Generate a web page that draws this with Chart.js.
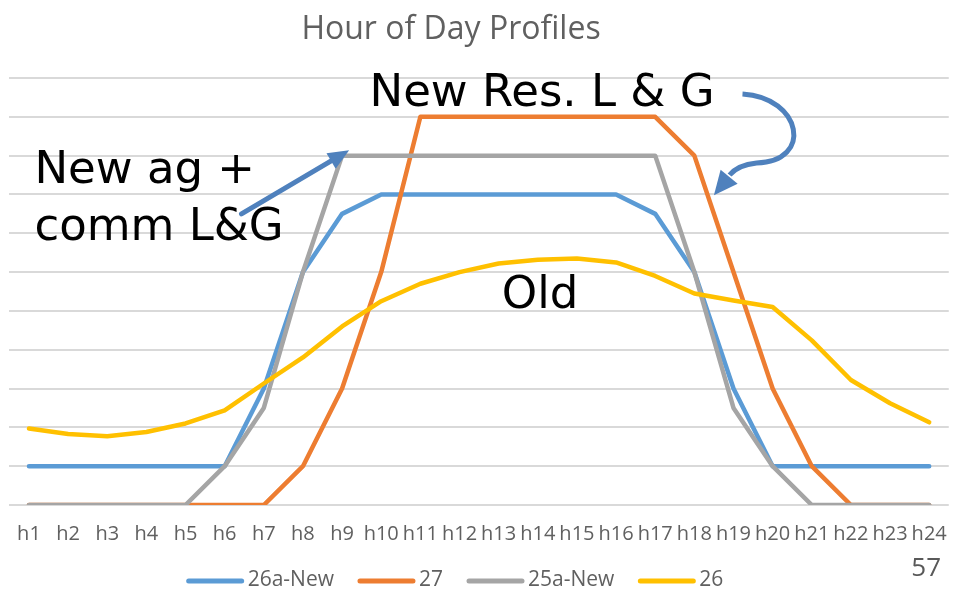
<!DOCTYPE html>
<html>
<head>
<meta charset="utf-8">
<script src="https://cdn.jsdelivr.net/npm/chart.js@4.4.1/dist/chart.umd.min.js"></script>
<style>
html,body{margin:0;padding:0;background:#ffffff;}
#wrap{width:964px;height:590px;position:relative;overflow:hidden;}
canvas{display:block;}
</style>
</head>
<body>
<div id="wrap"><canvas id="c" width="964" height="590"></canvas></div>
<script>
// ---- data ----
const hours = ['h1','h2','h3','h4','h5','h6','h7','h8','h9','h10','h11','h12','h13','h14','h15','h16','h17','h18','h19','h20','h21','h22','h23','h24'];
const seriesNames = ['26a-New', '27', '25a-New', '26'];
const values26aNew = [1,1,1,1,1,1,3,6,7.5,8,8,8,8,8,8,8,7.5,6,3,1,1,1,1,1];
const values27     = [0,0,0,0,0,0,0,1,3,6,10,10,10,10,10,10,10,9,6,3,1,0,0,0];
const values25aNew = [0,0,0,0,0,1,2.5,6,9,9,9,9,9,9,9,9,9,6,2.5,1,0,0,0,0];
const values26     = [1.97,1.83,1.77,1.88,2.1,2.44,3.13,3.8,4.6,5.25,5.7,6.0,6.22,6.32,6.35,6.25,5.9,5.45,5.27,5.1,4.24,3.22,2.62,2.13];
const yMin = 0, yMax = 11, yStep = 1;
const chartTitle = 'Hour of Day Profiles';
const pageNumber = '57';
const labelNewRes = 'New Res. L & G';
const labelNewAg = ['New ag +', 'comm L&G'];
const labelOld = 'Old';

// ---- styles ----
const colors = ['#5B9BD5', '#ED7D31', '#A5A5A5', '#FFC000'];
const textGray = '#606060';
const arrowBlue = '#4F81BD';

const seriesValues = [values26aNew, values27, values25aNew, values26];
// Excel draws later series on top: higher 'order' is drawn first
const drawOrder = [4, 3, 2, 1];

const datasets = seriesNames.map((name, k) => ({
  label: name,
  data: seriesValues[k],
  borderColor: colors[k],
  backgroundColor: colors[k],
  borderWidth: 4.5,
  pointRadius: 0,
  pointHoverRadius: 0,
  tension: 0,
  fill: false,
  borderJoinStyle: 'round',
  borderCapStyle: 'round',
  order: drawOrder[k]
}));

const overlayPlugin = {
  id: 'overlay',
  afterDatasetsDraw(chart) {
    const ctx = chart.ctx;
    const xs = chart.scales.x, ys = chart.scales.y;
    const X = i => xs.getPixelForValue(i);
    const Y = v => ys.getPixelForValue(v);
    ctx.save();

    // annotation texts
    ctx.fillStyle = '#000000';
    ctx.textAlign = 'left';
    ctx.textBaseline = 'alphabetic';
    ctx.font = '45px "DejaVu Sans"';
    ctx.fillText(labelNewRes, X(8.70), Y(10.28));
    ctx.fillText(labelNewAg[0], X(0.14), Y(8.30));
    ctx.fillText(labelNewAg[1], X(0.14), Y(6.83));
    ctx.fillText(labelOld, X(12.08), Y(5.07));

    // arrows
    function head(tx, ty, fx, fy, len, wid) {
      const a = Math.atan2(ty - fy, tx - fx);
      ctx.beginPath();
      ctx.moveTo(tx, ty);
      ctx.lineTo(tx - len * Math.cos(a) + wid / 2 * Math.sin(a), ty - len * Math.sin(a) - wid / 2 * Math.cos(a));
      ctx.lineTo(tx - len * Math.cos(a) - wid / 2 * Math.sin(a), ty - len * Math.sin(a) + wid / 2 * Math.cos(a));
      ctx.closePath();
      ctx.fill();
    }
    ctx.strokeStyle = arrowBlue;
    ctx.fillStyle = arrowBlue;
    ctx.lineWidth = 5;
    ctx.lineCap = 'round';
    // straight arrow
    const t0x = X(5.43), t0y = Y(7.50), t1x = X(8.18), t1y = Y(9.14);
    const a1 = Math.atan2(t1y - t0y, t1x - t0x);
    ctx.beginPath();
    ctx.moveTo(t0x, t0y);
    ctx.lineTo(t1x - 14 * Math.cos(a1), t1y - 14 * Math.sin(a1));
    ctx.stroke();
    head(t1x, t1y, t0x, t0y, 21, 18);
    // curved arrow
    ctx.lineCap = 'butt';
    ctx.beginPath();
    ctx.moveTo(X(18.23), Y(10.59));
    ctx.bezierCurveTo(X(19.75), Y(10.50), X(20.05), Y(8.85), X(18.59), Y(8.81));
    ctx.quadraticCurveTo(X(18.11), Y(8.76), X(17.90), Y(8.50));
    ctx.stroke();
    head(X(17.50), Y(7.98), X(18.02), Y(8.62), 24, 22);

    ctx.restore();
  },
  afterDraw(chart) {
    const ctx = chart.ctx;
    ctx.save();
    // title
    ctx.fillStyle = textGray;
    ctx.textAlign = 'center';
    ctx.textBaseline = 'alphabetic';
    ctx.font = '32px "Open Sans"';
    ctx.fillText(chartTitle, 451, 39);

    // legend
    ctx.font = '21px "Open Sans"';
    const lineLen = 57, gap = 4, spacing = 24;
    const widths = seriesNames.map(n => ctx.measureText(n).width);
    let total = 0;
    widths.forEach((w, k) => { total += lineLen + gap + w + (k < widths.length - 1 ? spacing : 0); });
    let x = 455 - total / 2;
    const ly = 580;
    ctx.textAlign = 'left';
    ctx.textBaseline = 'middle';
    seriesNames.forEach((n, k) => {
      ctx.strokeStyle = colors[k];
      ctx.lineWidth = 5;
      ctx.lineCap = 'round';
      ctx.beginPath();
      ctx.moveTo(x + 2, ly + 1);
      ctx.lineTo(x + lineLen - 2, ly + 1);
      ctx.stroke();
      ctx.fillStyle = textGray;
      ctx.fillText(n, x + lineLen + gap, ly);
      x += lineLen + gap + widths[k] + spacing;
    });

    // page number
    ctx.textAlign = 'right';
    ctx.textBaseline = 'alphabetic';
    ctx.font = '26px "Open Sans"';
    ctx.fillStyle = '#595959';
    ctx.fillText(pageNumber, 941, 576);
    ctx.restore();
  }
};

new Chart(document.getElementById('c'), {
  type: 'line',
  data: { labels: hours, datasets: datasets },
  options: {
    responsive: false,
    animation: false,
    devicePixelRatio: 1,
    layout: { padding: { top: 78, bottom: 27, left: 7, right: 14 } },
    plugins: {
      legend: { display: false },
      title: { display: false },
      tooltip: { enabled: false }
    },
    scales: {
      x: {
        type: 'category',
        offset: true,
        grid: { display: false, drawTicks: false, tickLength: 0 },
        border: { display: false },
        ticks: {
          color: textGray,
          font: { family: 'Open Sans', size: 20 },
          padding: 17,
          autoSkip: false,
          maxRotation: 0,
          minRotation: 0
        }
      },
      y: {
        min: yMin,
        max: yMax,
        grid: { color: '#D9D9D9', lineWidth: 2, drawTicks: false, tickLength: 0 },
        border: { display: false },
        ticks: { display: false, stepSize: yStep }
      }
    }
  },
  plugins: [overlayPlugin]
});
</script>
</body>
</html>
